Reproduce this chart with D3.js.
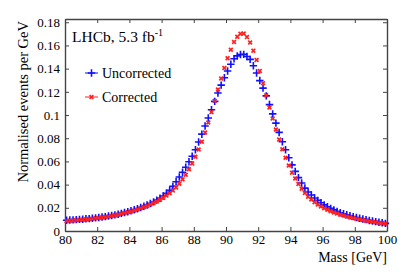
<!DOCTYPE html>
<html>
<head>
<meta charset="utf-8">
<script src="https://cdn.jsdelivr.net/npm/d3@7"></script>
<style>
  body { margin: 0; background: #fff; }
  text { font-family: "Liberation Serif", "DejaVu Serif", serif; fill: #000; }
</style>
</head>
<body>
<script>
// bin centres, 0.2 GeV wide, from 80 to 100 GeV
var massBins = [];
for (var i = 0; i < 100; i++) massBins.push(80.1 + 0.2 * i);

// normalised events per GeV
var uncorrected = [
  0.0093, 0.0095, 0.0096, 0.0098, 0.0100, 0.0102, 0.0105, 0.0107, 0.0110, 0.0113,
  0.0116, 0.0120, 0.0124, 0.0129, 0.0134, 0.0139, 0.0145, 0.0152, 0.0159, 0.0166,
  0.0174, 0.0183, 0.0192, 0.0202, 0.0213, 0.0224, 0.0237, 0.0251, 0.0266, 0.0283,
  0.0302, 0.0325, 0.0350, 0.0385, 0.0425, 0.0465, 0.0507, 0.0550, 0.0597, 0.0645,
  0.0700, 0.0768, 0.0835, 0.0905, 0.0975, 0.1045, 0.1118, 0.1190, 0.1258, 0.1322,
  0.1380, 0.1438, 0.1485, 0.1510, 0.1522, 0.1523, 0.1505, 0.1480, 0.1425, 0.1362,
  0.1297, 0.1232, 0.1165, 0.1090, 0.1010, 0.0930, 0.0850, 0.0770, 0.0700, 0.0632,
  0.0570, 0.0514, 0.0460, 0.0414, 0.0370, 0.0336, 0.0310, 0.0285, 0.0264, 0.0243,
  0.0225, 0.0209, 0.0195, 0.0182, 0.0169, 0.0158, 0.0149, 0.0140, 0.0132, 0.0124,
  0.0117, 0.0110, 0.0104, 0.0098, 0.0091, 0.0086, 0.0081, 0.0076, 0.0071, 0.0066
];
var corrected = [
  0.0087, 0.0089, 0.0091, 0.0093, 0.0095, 0.0097, 0.0100, 0.0103, 0.0106, 0.0109,
  0.0112, 0.0116, 0.0120, 0.0125, 0.0130, 0.0135, 0.0141, 0.0148, 0.0155, 0.0162,
  0.0169, 0.0177, 0.0186, 0.0196, 0.0206, 0.0216, 0.0228, 0.0241, 0.0255, 0.0270,
  0.0287, 0.0305, 0.0325, 0.0350, 0.0376, 0.0407, 0.0445, 0.0485, 0.0532, 0.0583,
  0.0640, 0.0703, 0.0770, 0.0850, 0.0935, 0.1025, 0.1122, 0.1220, 0.1315, 0.1405,
  0.1490, 0.1563, 0.1630, 0.1675, 0.1700, 0.1702, 0.1672, 0.1625, 0.1555, 0.1475,
  0.1380, 0.1275, 0.1170, 0.1065, 0.0970, 0.0875, 0.0788, 0.0705, 0.0632, 0.0565,
  0.0503, 0.0452, 0.0405, 0.0365, 0.0328, 0.0296, 0.0271, 0.0248, 0.0229, 0.0211,
  0.0196, 0.0183, 0.0170, 0.0160, 0.0150, 0.0141, 0.0133, 0.0125, 0.0118, 0.0111,
  0.0105, 0.0100, 0.0094, 0.0089, 0.0084, 0.0079, 0.0075, 0.0070, 0.0066, 0.0062
];

var xTicks = [80, 82, 84, 86, 88, 90, 92, 94, 96, 98, 100];
var yTicks = [0, 0.02, 0.04, 0.06, 0.08, 0.1, 0.12, 0.14, 0.16, 0.18];

var margin = {top: 19, right: 20, bottom: 45, left: 65},
    width = 407 - margin.left - margin.right,
    height = 276 - margin.top - margin.bottom;

var x = d3.scaleLinear().domain([80, 100]).range([0, width]);
var y = d3.scaleLinear().domain([0, 0.1828]).range([height, 0]);

var svg = d3.select("body").append("svg")
    .attr("width", 407)
    .attr("height", 276)
  .append("g")
    .attr("transform", "translate(" + margin.left + "," + margin.top + ")");

// axes, ROOT style: ticks inside on all four sides
var tickLen = 4;
svg.append("g")
    .attr("class", "axis")
    .attr("transform", "translate(0," + height + ")")
    .call(d3.axisBottom(x).tickValues(xTicks).tickSizeInner(-tickLen).tickSizeOuter(0).tickPadding(4));
svg.append("g")
    .attr("class", "axis")
    .call(d3.axisTop(x).tickValues(xTicks).tickSizeInner(-tickLen).tickSizeOuter(0).tickFormat(""));
svg.append("g")
    .attr("class", "axis")
    .call(d3.axisLeft(y).tickValues(yTicks).tickSizeInner(-tickLen).tickSizeOuter(0).tickPadding(5)
      .tickFormat(function(d) { return d3.format("")(+d.toFixed(2)); }));
svg.append("g")
    .attr("class", "axis")
    .attr("transform", "translate(" + width + ",0)")
    .call(d3.axisRight(y).tickValues(yTicks).tickSizeInner(-tickLen).tickSizeOuter(0).tickFormat(""));

svg.selectAll(".axis .domain").attr("stroke", "#444").attr("stroke-width", 1.4);
svg.selectAll(".axis line").attr("stroke", "#444").attr("stroke-width", 1);
svg.selectAll(".axis text")
    .style("font-family", "'Liberation Serif', serif")
    .style("font-size", "13px")
    .attr("fill", "#000");

// markers
var plus = d3.symbol().type(d3.symbolPlus).size(20);
var times = d3.symbol().type(d3.symbolTimes).size(11);

svg.append("g").selectAll("path")
    .data(massBins)
  .enter().append("path")
    .attr("d", plus)
    .attr("transform", function(d, i) { return "translate(" + x(d) + "," + y(uncorrected[i]) + ")"; })
    .attr("fill", "none")
    .attr("stroke", "#1010ff")
    .attr("stroke-width", 1.6);

svg.append("g").selectAll("path")
    .data(massBins)
  .enter().append("path")
    .attr("d", times)
    .attr("transform", function(d, i) { return "translate(" + x(d) + "," + y(corrected[i]) + ")"; })
    .attr("fill", "none")
    .attr("stroke", "#ff2020")
    .attr("stroke-width", 1.7);

// text labels
svg.append("text")
    .attr("x", 7)
    .attr("y", 23)
    .style("font-size", "15.5px")
    .html("LHCb, 5.3 fb<tspan dy='-6' font-size='10px'>-1</tspan>");

// legend
var legend = [
  {label: "Uncorrected", color: "#1010ff", sym: plus, yy: 54},
  {label: "Corrected", color: "#ff2020", sym: times, yy: 78}
];
legend.forEach(function(l) {
  svg.append("line")
      .attr("x1", 20).attr("x2", 33)
      .attr("y1", l.yy).attr("y2", l.yy)
      .attr("stroke", l.color).attr("stroke-width", 1);
  svg.append("path")
      .attr("d", l.sym)
      .attr("transform", "translate(26.5," + l.yy + ")")
      .attr("fill", "none")
      .attr("stroke", l.color)
      .attr("stroke-width", 1.6);
  svg.append("text")
      .attr("x", 37)
      .attr("y", l.yy + 5)
      .style("font-size", "14px")
      .text(l.label);
});

// axis titles
svg.append("text")
    .attr("x", width)
    .attr("y", height + 31)
    .style("text-anchor", "end")
    .style("font-size", "14px")
    .text("Mass [GeV]");

svg.append("text")
    .attr("transform", "rotate(-90)")
    .attr("x", -2)
    .attr("y", -37)
    .style("text-anchor", "end")
    .style("font-size", "14.5px")
    .text("Normalised events per GeV");
</script>
</body>
</html>
